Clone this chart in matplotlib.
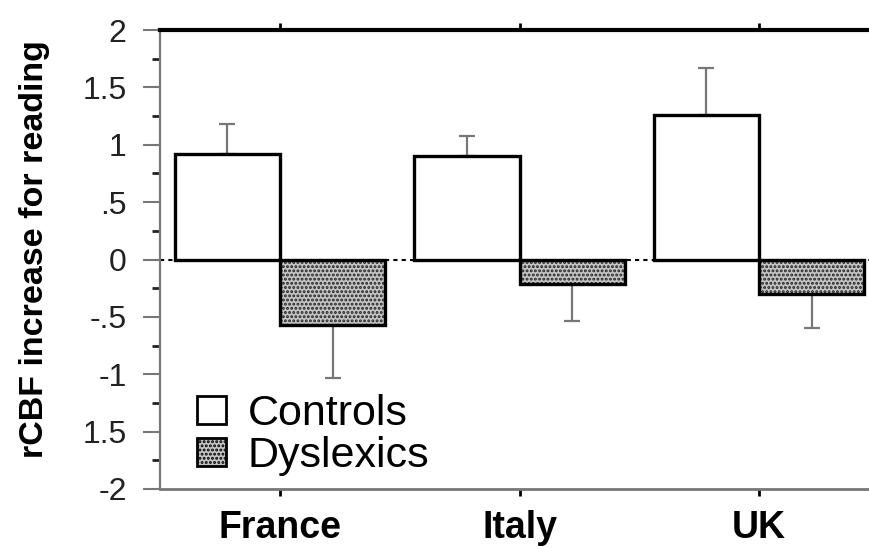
import numpy as np
import matplotlib
matplotlib.use('Agg')
import matplotlib.pyplot as plt
from matplotlib.ticker import MultipleLocator
from matplotlib.patches import Patch

plt.rcParams['font.family'] = ['Liberation Sans', 'DejaVu Sans']
plt.rcParams['hatch.linewidth'] = 1.4

countries = ['France', 'Italy', 'UK']
controls = [0.92, 0.90, 1.26]
controls_err = [0.26, 0.18, 0.41]
dyslexics = [-0.57, -0.21, -0.30]
dyslexics_err = [0.46, 0.33, 0.30]
yticks = [-2, -1.5, -1, -0.5, 0, 0.5, 1, 1.5, 2]
ytick_labels = ['-2', '1.5', '-1', '-.5', '0', '.5', '1', '1.5', '2']

W, H = 869, 549
fig = plt.figure(figsize=(W / 100, H / 100), dpi=100)
ax = fig.add_axes([160 / W, 1 - 489 / H, 1 - 160 / W, (489 - 30) / H])

x = np.arange(len(countries))
w = 0.44
bar_lw = 2.4
hatch_face = '#c4c4c4'

ax.axhline(0, color='black', lw=1.5, ls=(0, (2, 2)), zorder=1)

ax.bar(x - w / 2, controls, w, color='white', edgecolor='black',
       linewidth=bar_lw, zorder=3)
# hatch fill drawn first, outline on top
ax.bar(x + w / 2, dyslexics, w, color=hatch_face, edgecolor='#222222',
       hatch='....', linewidth=0, zorder=3)
ax.bar(x + w / 2, dyslexics, w, fill=False, edgecolor='black',
       linewidth=bar_lw, zorder=4)

err_kw = dict(fmt='none', ecolor='#777777', elinewidth=1.6, capsize=6,
              capthick=1.6, zorder=2)
ax.errorbar(x - w / 2, controls, yerr=[np.zeros(3), controls_err], **err_kw)
ax.errorbar(x + w / 2, dyslexics, yerr=[dyslexics_err, np.zeros(3)], **err_kw)

ax.set_xlim(-0.501, 2.459)
ax.set_ylim(-2, 2)

ax.set_yticks(yticks)
ax.set_yticklabels(ytick_labels, fontsize=23, color='#222222')
ax.yaxis.set_minor_locator(MultipleLocator(0.25))
ax.tick_params(axis='y', which='major', length=12, width=1.5, color='#777777', pad=12)
ax.tick_params(axis='y', which='minor', length=6, width=2, color='#222222')

ax.set_xticks(x)
ax.set_xticklabels(countries, fontsize=27, fontweight='bold')
ax.tick_params(axis='x', length=5, width=2, color='black', top=True, pad=10)

ax.spines['top'].set_color('black')
ax.spines['top'].set_linewidth(3)
ax.spines['left'].set_color('#777777')
ax.spines['left'].set_linewidth(1.6)
ax.spines['bottom'].set_color('#777777')
ax.spines['bottom'].set_linewidth(2)
ax.spines['right'].set_visible(False)

fig.text(35 / W, 1 - 249 / H, 'rCBF increase for reading', rotation=90,
         fontsize=24.5, fontweight='bold', ha='center', va='center')

h1 = Patch(facecolor='white', edgecolor='black', linewidth=2)
h2 = Patch(facecolor=hatch_face, edgecolor='black', hatch='....', linewidth=2)
ax.legend([h1, h2], ['Controls', 'Dyslexics'], loc='upper left',
          bbox_to_anchor=(197 / W, 1 - 394 / H), bbox_transform=fig.transFigure,
          frameon=False, fontsize=31, handlelength=0.68, handleheight=0.62,
          handletextpad=0.5, labelspacing=0.05, borderpad=0, borderaxespad=0)

plt.savefig('out.png', dpi=100)
